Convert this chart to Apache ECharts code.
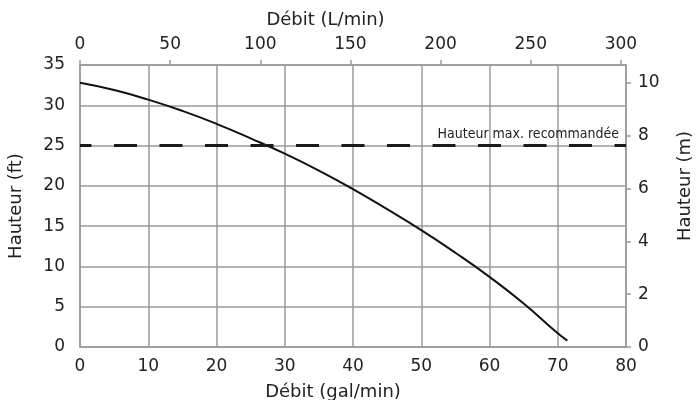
<!DOCTYPE html>
<html>
<head>
<meta charset="utf-8">
<script src="https://cdn.jsdelivr.net/npm/echarts@6/dist/echarts.min.js"></script>
<style>html,body{margin:0;padding:0;background:#fff;}#c{width:696px;height:400px;}</style>
</head>
<body>
<div id="c"></div>
<script>
// Data
const flowGal = [0, 5, 10, 15, 20, 25, 30, 35, 40, 45, 50, 55, 60, 65, 70, 71.4];
const headFt  = [32.8, 31.9, 30.7, 29.3, 27.7, 25.9, 24.0, 21.9, 19.6, 17.1, 14.5, 11.7, 8.7, 5.4, 1.7, 0.8];
const maxHeadFt = 25;
const maxLabel = 'Hauteur max. recommandée';
const topTicksL = [0, 50, 100, 150, 200, 250, 300];
const rightTicksM = [0, 2, 4, 6, 8, 10];
const GAL_TO_L = 3.78541;
const FT_TO_M = 0.3048;

const font = 'DejaVu Sans';
const grey = '#9a9a9a';
const txt = '#222';
const chart = echarts.init(document.getElementById('c'));
const xMax = 80, yMax = 35;
const axisLine = {show: true, onZero: false, lineStyle: {color: grey, width: 1.5}};
chart.setOption({
  animation: false,
  grid: {left: 80, right: 70, top: 65, bottom: 53, containLabel: false, outerBoundsMode: 'none'},
  xAxis: [
    {type: 'value', position: 'bottom', min: 0, max: xMax, interval: 10,
     name: 'Débit (gal/min)', nameLocation: 'middle', nameGap: 36,
     nameTextStyle: {fontFamily: font, fontSize: 18, color: txt, padding: [0, 40, 0, 0]},
     axisLine: axisLine,
     axisTick: {show: false},
     axisLabel: {fontFamily: font, fontSize: 17, color: txt, margin: 11},
     splitLine: {show: true, lineStyle: {color: grey, width: 1.5}}},
    {type: 'value', position: 'top', min: 0, max: xMax * GAL_TO_L,
     name: 'Débit (L/min)', nameLocation: 'middle', nameGap: 36,
     nameTextStyle: {fontFamily: font, fontSize: 18, color: txt, padding: [0, 55, 0, 0]},
     axisLine: axisLine,
     axisTick: {show: true, length: 5, customValues: topTicksL, lineStyle: {color: grey, width: 1.5}},
     axisLabel: {fontFamily: font, fontSize: 17, color: txt, margin: 12, customValues: topTicksL},
     splitLine: {show: false}}
  ],
  yAxis: [
    {type: 'value', position: 'left', min: 0, max: yMax, interval: 5,
     name: 'Hauteur (ft)', nameLocation: 'middle', nameGap: 55, nameRotate: 90,
     nameTextStyle: {fontFamily: font, fontSize: 18, color: txt},
     axisLine: axisLine,
     axisTick: {show: false},
     axisLabel: {fontFamily: font, fontSize: 17, color: txt, margin: 15},
     splitLine: {show: true, lineStyle: {color: grey, width: 1.5}}},
    {type: 'value', position: 'right', min: 0, max: yMax * FT_TO_M,
     name: 'Hauteur (m)', nameLocation: 'middle', nameGap: 50, nameRotate: 90,
     nameTextStyle: {fontFamily: font, fontSize: 18, color: txt, padding: [0, 0, 0, 40]},
     axisLine: axisLine,
     axisTick: {show: true, length: 5, customValues: rightTicksM, lineStyle: {color: grey, width: 1.5}},
     axisLabel: {fontFamily: font, fontSize: 17, color: txt, margin: 12, customValues: rightTicksM},
     splitLine: {show: false}}
  ],
  series: [{
    type: 'line', xAxisIndex: 0, yAxisIndex: 0, smooth: true, symbol: 'none',
    data: flowGal.map((x, i) => [x, headFt[i]]),
    lineStyle: {color: '#111', width: 2},
    markLine: {
      silent: true, symbol: 'none',
      data: [{yAxis: maxHeadFt}],
      lineStyle: {color: '#1a1a1a', width: 3, type: [23, 22.5], dashOffset: 11.5},
      label: {show: true, position: 'insideEndTop', formatter: maxLabel, distance: [7, 4],
              fontFamily: 'Liberation Sans Narrow, DejaVu Sans Condensed, sans-serif', fontSize: 14, color: txt}
    }
  }]
});
</script>
</body>
</html>
